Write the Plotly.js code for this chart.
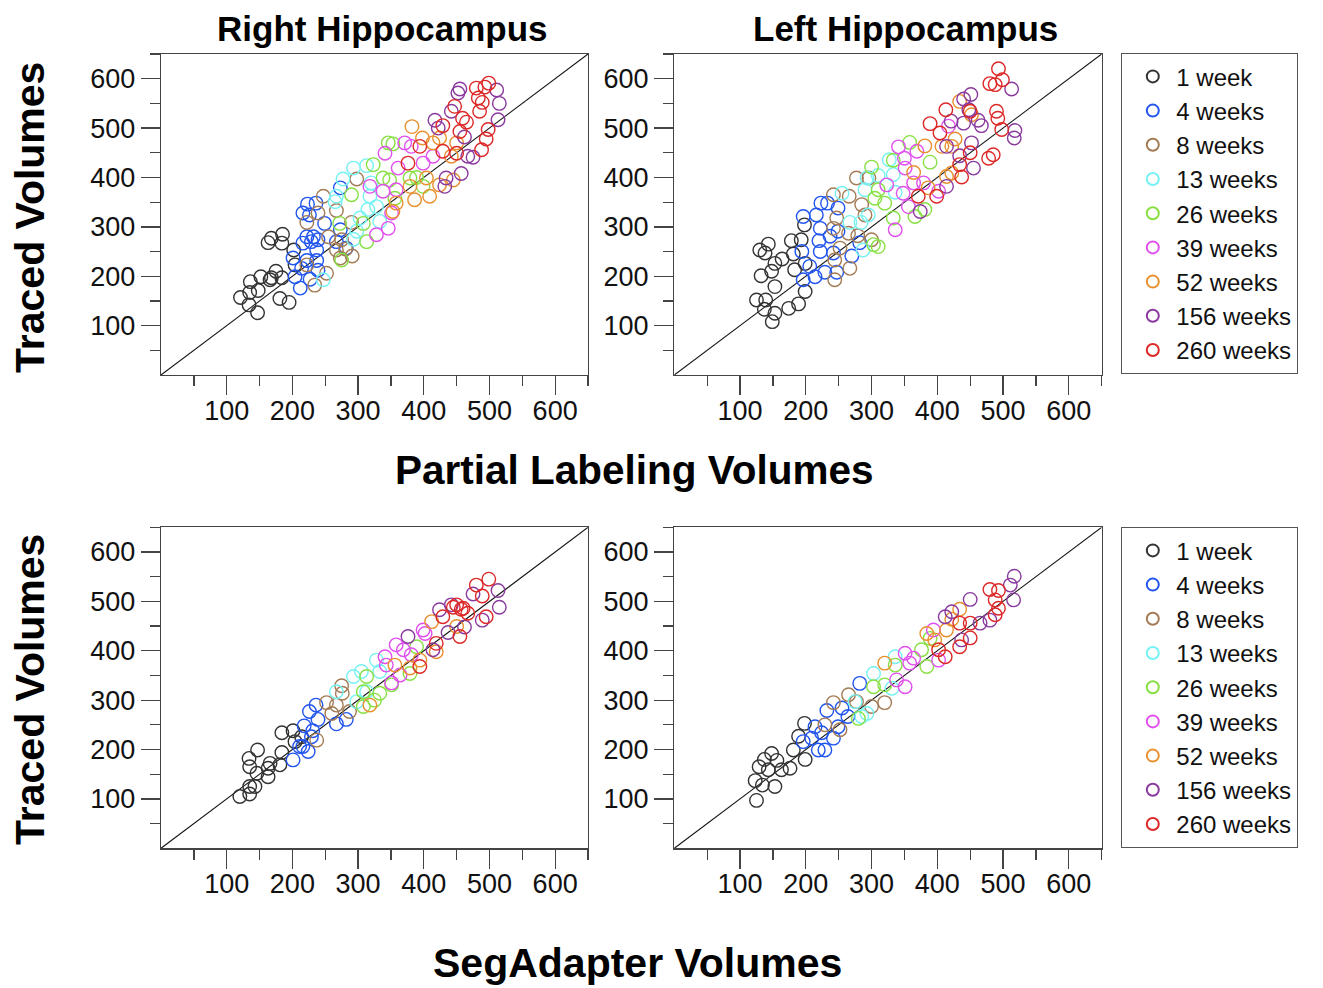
<!DOCTYPE html>
<html>
<head>
<meta charset="utf-8">
<script src="https://cdn.plot.ly/plotly-3.0.1.min.js"></script>
<style>html,body{margin:0;padding:0;background:#fff;}#chart{width:1323px;height:988px;}</style>
</head>
<body>
<div id="chart"></div>
<script>
// ---------- data ----------
const groups = ["1 week","4 weeks","8 weeks","13 weeks","26 weeks","39 weeks","52 weeks","156 weeks","260 weeks"];
const panelTitles = ["Right Hippocampus","Left Hippocampus"];
const tickLabels = [100,200,300,400,500,600];
const identityLine = [0,650];

// Right hippocampus, partial labeling (x) vs traced (y)
const RH_PL_X = [
  [168,185,163,184,202,204,175,152,168,184,136,135,148,121,134,147,181,195,166],
  [223,236,216,226,249,273,222,232,216,229,239,237,201,222,237,214,204,227,239,212,273,267,282],
  [247,298,267,239,222,290,255,275,267,281,273,291,222,252,234],
  [293,313,277,267,320,318,328,315,333,303,298,293,247,265],
  [346,353,323,338,348,290,356,379,389,399,308,272,313,275],
  [371,381,341,361,338,318,399,358,351,346,328,414],
  [382,398,414,424,450,442,358,353,386,409,424,445,404,379],
  [455,452,511,515,442,417,422,462,513,467,475,434,457,432],
  [499,480,493,483,489,485,447,459,465,429,455,498,495,488,450,376,394,429]
];
const RH_PL_Y = [
  [277,285,268,267,253,223,210,199,197,197,189,167,171,157,142,126,155,147,193],
  [346,348,328,324,307,379,280,280,267,270,274,253,237,232,232,216,199,194,212,176,294,270,257],
  [362,397,333,328,309,309,280,274,253,255,237,241,223,206,182],
  [419,424,397,362,389,362,341,335,311,318,291,275,193,351],
  [470,468,426,399,395,365,358,399,400,382,307,307,270,233],
  [470,463,449,419,372,382,429,375,328,297,284,443],
  [503,480,470,480,470,443,348,331,355,362,385,395,399,382],
  [579,571,577,550,534,516,500,482,517,443,441,399,408,382],
  [591,581,583,561,552,534,544,520,512,505,493,497,478,456,449,429,463,453]
];

// Left hippocampus, partial labeling
const LH_PL_X = [
  [130,143,138,178,193,198,181,164,153,148,132,183,199,153,199,125,139,137,153,149,174,189],
  [223,233,249,216,196,222,249,237,220,194,222,242,206,214,229,247,270,282,196],
  [277,296,242,266,285,290,247,242,265,279,300,252,244,267,244],
  [255,290,310,293,327,333,336,267,284,295,287],
  [358,333,300,389,310,320,305,333,381,366,303,310],
  [341,350,369,351,364,379,348,356,336,402,417,323],
  [381,364,407,422,427,414,422,434,452,386],
  [451,440,448,462,467,421,440,414,452,434,455,513,518,517,414,374],
  [493,499,480,488,490,492,498,413,450,389,404,450,434,437,485,478,371,399]
];
const LH_PL_Y = [
  [253,265,247,272,274,304,245,235,226,210,201,213,226,179,169,152,152,133,125,108,135,144],
  [348,348,338,324,321,297,291,281,272,250,250,247,220,199,208,208,241,268,193],
  [399,399,365,362,345,324,318,297,287,282,274,257,233,216,193],
  [368,375,404,399,436,406,370,309,309,324,253],
  [471,435,421,431,375,348,358,318,335,321,264,260],
  [462,439,453,419,389,389,368,341,294,372,504,385],
  [464,410,463,463,478,402,409,554,527,379],
  [568,559,537,516,505,514,510,463,470,444,419,579,495,480,382,331],
  [620,598,590,588,534,520,497,537,534,509,490,450,426,401,446,439,362,362]
];

// Right hippocampus, SegAdapter
const RH_SA_X = [
  [147,134,135,146,163,166,181,184,184,201,204,214,135,143,120,135,163],
  [236,226,239,218,231,229,216,224,201,211,267,282],
  [275,252,267,276,287,237,260],
  [293,305,328,267,298,313,333],
  [313,308,333,351,325,308,379,389],
  [341,358,369,343,399,402,351,364,381],
  [412,356,379,394,419,318,450],
  [376,424,442,437,462,489,513,515,475,414],
  [499,480,489,450,460,429,445,495,455,394,419,457,467]
];
const RH_SA_Y = [
  [199,182,165,152,162,172,169,194,234,238,216,226,125,125,105,110,145],
  [290,277,261,248,238,226,206,196,179,206,252,261],
  [329,295,290,314,277,219,273],
  [348,358,381,317,297,317,358],
  [348,317,314,331,300,287,354,408],
  [388,412,402,371,442,435,335,351,392],
  [459,371,365,381,398,290,449],
  [429,483,493,437,448,462,522,488,515,402],
  [545,533,511,493,486,469,488,469,429,368,415,484,476]
];

// Left hippocampus, SegAdapter
const LH_SA_X = [
  [198,189,148,137,156,129,143,123,134,153,125,181,199,176,163],
  [282,232,255,264,196,214,224,209,219,229,242,249],
  [242,265,277,300,320,252,229],
  [336,303,285,293,331,275],
  [389,376,336,303,320,384,280],
  [351,364,358,338,351,394,402],
  [434,422,414,384,320,396],
  [517,511,516,450,412,422,465,480,437],
  [480,493,488,493,488,434,450,450,434,402,412]
];
const LH_SA_Y = [
  [253,227,192,180,178,165,159,137,128,125,97,199,180,162,159],
  [334,279,284,267,216,246,234,223,199,199,223,246],
  [295,311,297,287,295,240,250],
  [388,354,267,273,324,297],
  [425,402,371,327,331,368,263],
  [395,385,375,341,327,442,381],
  [484,464,442,435,375,422],
  [551,533,503,504,469,479,456,462,422],
  [524,522,503,486,473,456,456,426,408,402,388]
];

// ---------- styles ----------
const colors = ["#333333","#2255ee","#a37b55","#77f2f2","#88e044","#e050ee","#e89030","#8a3a9e","#dd2828"];
const FONT = "Liberation Sans, Arial, Helvetica, sans-serif";

const panels = [
  {X: RH_PL_X, Y: RH_PL_Y, xa: "x",  ya: "y",  legend: "legend",  show: true},
  {X: LH_PL_X, Y: LH_PL_Y, xa: "x2", ya: "y2", legend: "legend",  show: false},
  {X: RH_SA_X, Y: RH_SA_Y, xa: "x3", ya: "y3", legend: "legend2", show: true},
  {X: LH_SA_X, Y: LH_SA_Y, xa: "x4", ya: "y4", legend: "legend2", show: false}
];

const traces = [];
panels.forEach(p => {
  traces.push({
    x: identityLine, y: identityLine, xaxis: p.xa, yaxis: p.ya,
    mode: "lines", line: {color: "#111", width: 1.1}, showlegend: false, hoverinfo: "skip"
  });
  groups.forEach((g, i) => {
    traces.push({
      x: p.X[i], y: p.Y[i], xaxis: p.xa, yaxis: p.ya, name: g,
      type: "scatter", mode: "markers",
      legend: p.legend, showlegend: p.show,
      marker: {symbol: "circle-open", size: 13.5, color: colors[i], line: {width: 1.4}}
    });
  });
});

function axis(domain, anchor, isX) {
  const a = {
    domain: domain, anchor: anchor, range: [0, 650], autorange: false,
    showgrid: false, zeroline: false,
    showline: true, mirror: true, linecolor: "#444", linewidth: 1.3,
    ticks: "outside", ticklen: 19, tickwidth: 1.3, tickcolor: "#444",
    tickmode: "array", tickvals: tickLabels,
    tickfont: {family: FONT, size: 27, color: "#111"},
    minor: {tickmode: "array", tickvals: [50,150,250,350,450,550,650], ticks: "outside", ticklen: 10, tickwidth: 1.3, tickcolor: "#444", showgrid: false}
  };
  if (isX) a.ticklabelstandoff = -8;
  return a;
}

const xL = [161/1323, 588/1323], xR = [674.3/1323, 1101.7/1323];
const yT = [1-375/988, 1-54/988], yB = [1-848.3/988, 1-527.3/988];

const legendBase = {
  x: 1121/1323, xanchor: "left", yanchor: "top",
  bordercolor: "#555", borderwidth: 1.3, bgcolor: "#fff",
  font: {family: FONT, size: 24, color: "#111"},
  itemsizing: "constant", tracegroupgap: 0, indentation: 7, itemwidth: 37,
  entrywidth: 190, entrywidthmode: "pixels"
};

const annotations = [
  {text: "<b>" + panelTitles[0] + "</b>", x: 383/1323, y: 1-28/988},
  {text: "<b>" + panelTitles[1] + "</b>", x: 906/1323, y: 1-28/988},
  {text: "<b>Partial Labeling Volumes</b>", x: 634/1323, y: 1-470/988, size: 40.5},
  {text: "<b>SegAdapter Volumes</b>", x: 637/1323, y: 0, size: 41, anchorY: "bottom"},
  {text: "<b>Traced Volumes</b>", x: 30/1323, y: 1-218/988, size: 41, angle: -90},
  {text: "<b>Traced Volumes</b>", x: 30/1323, y: 1-690/988, size: 41, angle: -90}
].map(a => ({
  text: a.text, x: a.x, y: a.y, xref: "paper", yref: "paper",
  xanchor: "center", yanchor: a.anchorY || "middle", showarrow: false, textangle: a.angle || 0,
  font: {family: FONT, size: a.size || 35, color: "#000"}
}));

const layout = {
  width: 1323, height: 988,
  margin: {l: 0, r: 0, t: 0, b: 0},
  paper_bgcolor: "#fff", plot_bgcolor: "#fff",
  showlegend: true,
  xaxis: axis(xL, "y", true), yaxis: axis(yT, "x"),
  xaxis2: axis(xR, "y2", true), yaxis2: axis(yT, "x2"),
  xaxis3: axis(xL, "y3", true), yaxis3: axis(yB, "x3"),
  xaxis4: axis(xR, "y4", true), yaxis4: axis(yB, "x4"),
  legend: Object.assign({}, legendBase, {y: 1-53/988}),
  legend2: Object.assign({}, legendBase, {y: 1-527/988}),
  annotations: annotations
};

Plotly.newPlot("chart", traces, layout, {displayModeBar: false, staticPlot: true});
</script>
</body>
</html>
